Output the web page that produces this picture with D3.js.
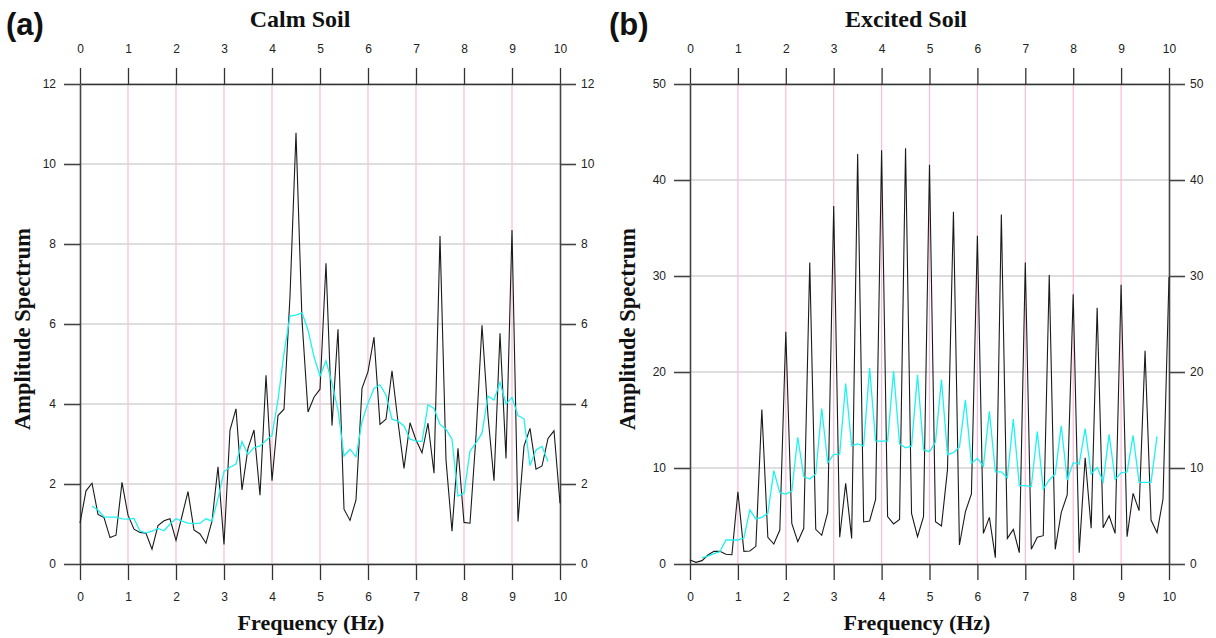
<!DOCTYPE html>
<html lang="en">

<head>
  <meta charset="UTF-8">
  <title>Calm vs Excited Soil - Amplitude Spectrum</title>
  <script src="https://cdn.jsdelivr.net/npm/d3@7/dist/d3.min.js"></script>
  <style>
    body {
      margin: 0;
      background: #fff;
    }

    svg {
      display: block;
    }

    .tick text {
      font-family: 'Liberation Sans', Arial, sans-serif;
      font-size: 12px;
      fill: #222;
    }

    .panel-tag {
      font-family: 'Liberation Sans', Arial, sans-serif;
      font-weight: bold;
      font-size: 31px;
      fill: #111;
    }

    .title,
    .axis-label {
      font-family: 'Liberation Serif', 'Times New Roman', serif;
      font-weight: bold;
      fill: #111;
    }
  </style>
</head>

<body>
  <svg id="chart" width="1216" height="638"></svg>

  <script>
    // sample spacing of the spectra (Hz)
    const freqStep = 0.125;
    const smoothStart = 0.25;

    const xTicks = [0, 1, 2, 3, 4, 5, 6, 7, 8, 9, 10];
    const calmTicks = [0, 2, 4, 6, 8, 10, 12];
    const excitedTicks = [0, 10, 20, 30, 40, 50];

    // Calm soil raw spectrum (0 .. 10 Hz)
    const calmRaw = [
      1.02, 1.83, 2.02, 1.24, 1.16, 0.66, 0.72, 2.04, 1.22, 0.87,
      0.79, 0.77, 0.37, 0.96, 1.08, 1.13, 0.59, 1.2, 1.81, 0.85,
      0.75, 0.52, 1.07, 2.43, 0.49, 3.35, 3.88, 1.85, 2.89, 3.35,
      1.72, 4.72, 2.08, 3.71, 3.87, 6.7, 10.78, 6.1, 3.8, 4.17,
      4.37, 7.52, 3.46, 5.87, 1.37, 1.09, 1.6, 4.39, 4.81, 5.67,
      3.49, 3.62, 4.83, 3.55, 2.39, 3.53, 3.1, 2.78, 3.52, 2.27,
      8.2, 2.6, 0.82, 2.89, 1.04, 1.02, 3.2, 5.97, 3.7, 2.08,
      5.77, 2.64, 8.35, 1.06, 2.95, 3.39, 2.37, 2.45, 3.14, 3.33,
      1.52
    ];

    // Calm soil smoothed spectrum (0.25 .. 9.75 Hz)
    const calmSmooth = [
      1.45, 1.35, 1.18, 1.17, 1.17, 1.13, 1.12, 1.14, 0.82, 0.78,
      0.82, 0.89, 0.83, 1.0, 1.13, 1.07, 1.02, 1.01, 1.02, 1.13,
      1.07, 1.64, 2.31, 2.42, 2.5, 3.06, 2.74, 2.91, 2.95, 3.09,
      3.22, 4.1, 5.27, 6.2, 6.22, 6.28, 5.85, 5.18, 4.7, 5.08,
      4.52, 3.85, 2.7, 2.87, 2.68, 3.56, 4.02, 4.39, 4.48, 4.22,
      3.62, 3.57, 3.45, 3.12, 3.08, 3.06, 3.98, 3.89, 3.49, 3.37,
      3.12, 1.7, 1.77, 2.82, 3.03, 3.27, 4.2, 4.1, 4.54, 4.0,
      4.16, 3.71, 3.63, 2.46, 2.85, 2.94, 2.56
    ];

    // Excited soil raw spectrum (0 .. 10 Hz)
    const excitedRaw = [
      0.42, 0.17, 0.35, 0.94, 1.32, 1.32, 1.01, 0.97, 7.53, 1.32,
      1.35, 1.84, 16.1, 2.78, 2.08, 3.54, 24.2, 4.24, 2.33, 3.72,
      31.4, 3.61, 2.99, 5.38, 37.3, 2.78, 8.4, 2.67, 42.7, 4.38,
      4.48, 6.74, 43.1, 4.93, 4.17, 4.65, 43.3, 5.28, 2.85, 4.93,
      41.6, 4.4, 3.96, 9.8, 36.7, 1.98, 5.45, 7.29, 34.2, 3.19,
      4.86, 0.66, 36.4, 2.67, 3.61, 1.18, 31.4, 1.53, 2.78, 2.95,
      30.1, 1.53, 5.35, 7.19, 28.1, 1.18, 11.07, 3.72, 26.7, 3.78,
      5.03, 3.19, 29.1, 2.85, 7.36, 5.56, 22.2, 4.58, 3.26, 6.77,
      29.9
    ];

    // Excited soil smoothed spectrum (0.25 .. 9.75 Hz)
    const excitedSmooth = [
      0.66, 0.83, 1.08, 1.28, 2.5, 2.5, 2.5, 2.71, 5.63, 4.69,
      4.86, 5.28, 9.72, 7.43, 7.29, 7.6, 13.2, 9.1, 8.85, 9.38,
      16.2, 10.55, 11.42, 11.45, 18.8, 12.3, 12.5, 12.3, 20.4, 12.8,
      12.8, 12.8, 20.1, 12.5, 12.1, 12.3, 19.7, 11.9, 11.7, 12.7,
      19.2, 11.4, 11.6, 12.2, 17.1, 10.5, 11.0, 10.2, 15.9, 9.6,
      9.6, 9.0, 15.1, 8.16, 8.16, 8.06, 13.8, 7.81, 8.75, 9.38,
      14.4, 8.75, 10.55, 10.4, 14.1, 9.38, 10.07, 8.58, 13.5, 8.82,
      9.5, 9.6, 13.4, 8.5, 8.5, 8.5, 13.3
    ];

    const svg = d3.select("#chart");
    const tickLen = 16;

    const drawPanel = (opts) => {
      const { left, right, top, bottom, yMax, yTicks, raw, smooth, tag, title, titleX, xLabelX, yLabelX } = opts;

      const x = d3.scaleLinear().domain([0, 10]).range([left, right]);
      const y = d3.scaleLinear().domain([0, yMax]).range([bottom, top]);

      const g = svg.append("g");

      // grid: grey horizontals, pink verticals
      g.selectAll(".hgrid")
        .data(yTicks)
        .enter().append("line")
        .attr("x1", left).attr("x2", right)
        .attr("y1", d => y(d)).attr("y2", d => y(d))
        .attr("stroke", "#bdbdbd")
        .attr("stroke-width", 1.2);

      g.selectAll(".vgrid")
        .data(xTicks.slice(1, -1))
        .enter().append("line")
        .attr("x1", d => x(d)).attr("x2", d => x(d))
        .attr("y1", top).attr("y2", bottom)
        .attr("stroke", "#f9bcd8")
        .attr("stroke-width", 1.2);

      const styleAxis = (sel, color, width) => {
        sel.selectAll(".domain").attr("stroke", color).attr("stroke-width", width);
        sel.selectAll(".tick line").attr("stroke", color).attr("stroke-width", width);
        sel.selectAll(".tick text").attr("font-family", null).attr("font-size", null);
      };

      g.append("g")
        .attr("transform", `translate(0,${top})`)
        .call(d3.axisTop(x).tickValues(xTicks).tickSize(tickLen).tickSizeOuter(0).tickPadding(15))
        .call(sel => styleAxis(sel, "#333", 1.3));

      g.append("g")
        .attr("transform", `translate(0,${bottom})`)
        .call(d3.axisBottom(x).tickValues(xTicks).tickSize(tickLen).tickSizeOuter(0).tickPadding(12))
        .call(sel => styleAxis(sel, "#333", 1.3));

      g.append("g")
        .attr("transform", `translate(${left},0)`)
        .call(d3.axisLeft(y).tickValues(yTicks).tickSize(tickLen).tickSizeOuter(0).tickPadding(8))
        .call(sel => styleAxis(sel, "#444", 1.6));

      g.append("g")
        .attr("transform", `translate(${right},0)`)
        .call(d3.axisRight(y).tickValues(yTicks).tickSize(tickLen).tickSizeOuter(0).tickPadding(5))
        .call(sel => styleAxis(sel, "#444", 1.6));

      const line = d3.line()
        .x(d => x(d.f))
        .y(d => y(d.v));

      const rawPts = raw.map((v, i) => ({ f: i * freqStep, v }));
      const smoothPts = smooth.map((v, i) => ({ f: smoothStart + i * freqStep, v }));

      g.append("path")
        .datum(rawPts)
        .attr("fill", "none")
        .attr("stroke", "#1a1a1a")
        .attr("stroke-width", 1.1)
        .attr("d", line);

      g.append("path")
        .datum(smoothPts)
        .attr("fill", "none")
        .attr("stroke", "#1ff2f2")
        .attr("stroke-width", 1.3)
        .attr("d", line);

      // labels
      svg.append("text")
        .attr("class", "panel-tag")
        .attr("x", tag.x).attr("y", 35)
        .text(tag.text);

      svg.append("text")
        .attr("class", "title")
        .attr("x", titleX).attr("y", 27)
        .attr("text-anchor", "middle")
        .attr("font-size", 24)
        .text(title);

      svg.append("text")
        .attr("class", "axis-label")
        .attr("x", xLabelX).attr("y", 630)
        .attr("text-anchor", "middle")
        .attr("font-size", 22)
        .text("Frequency (Hz)");

      svg.append("text")
        .attr("class", "axis-label")
        .attr("transform", `translate(${yLabelX},${(top + bottom) / 2 + 5}) rotate(-90)`)
        .attr("text-anchor", "middle")
        .attr("font-size", 22.5)
        .text("Amplitude Spectrum");
    };

    drawPanel({
      left: 80, right: 560, top: 84, bottom: 564,
      yMax: 12, yTicks: calmTicks,
      raw: calmRaw, smooth: calmSmooth,
      tag: { x: 6, text: "(a)" },
      title: "Calm Soil", titleX: 300, xLabelX: 311, yLabelX: 30
    });

    drawPanel({
      left: 690, right: 1169, top: 84, bottom: 564,
      yMax: 50, yTicks: excitedTicks,
      raw: excitedRaw, smooth: excitedSmooth,
      tag: { x: 609, text: "(b)" },
      title: "Excited Soil", titleX: 906, xLabelX: 917, yLabelX: 635
    });
  </script>
</body>

</html>
